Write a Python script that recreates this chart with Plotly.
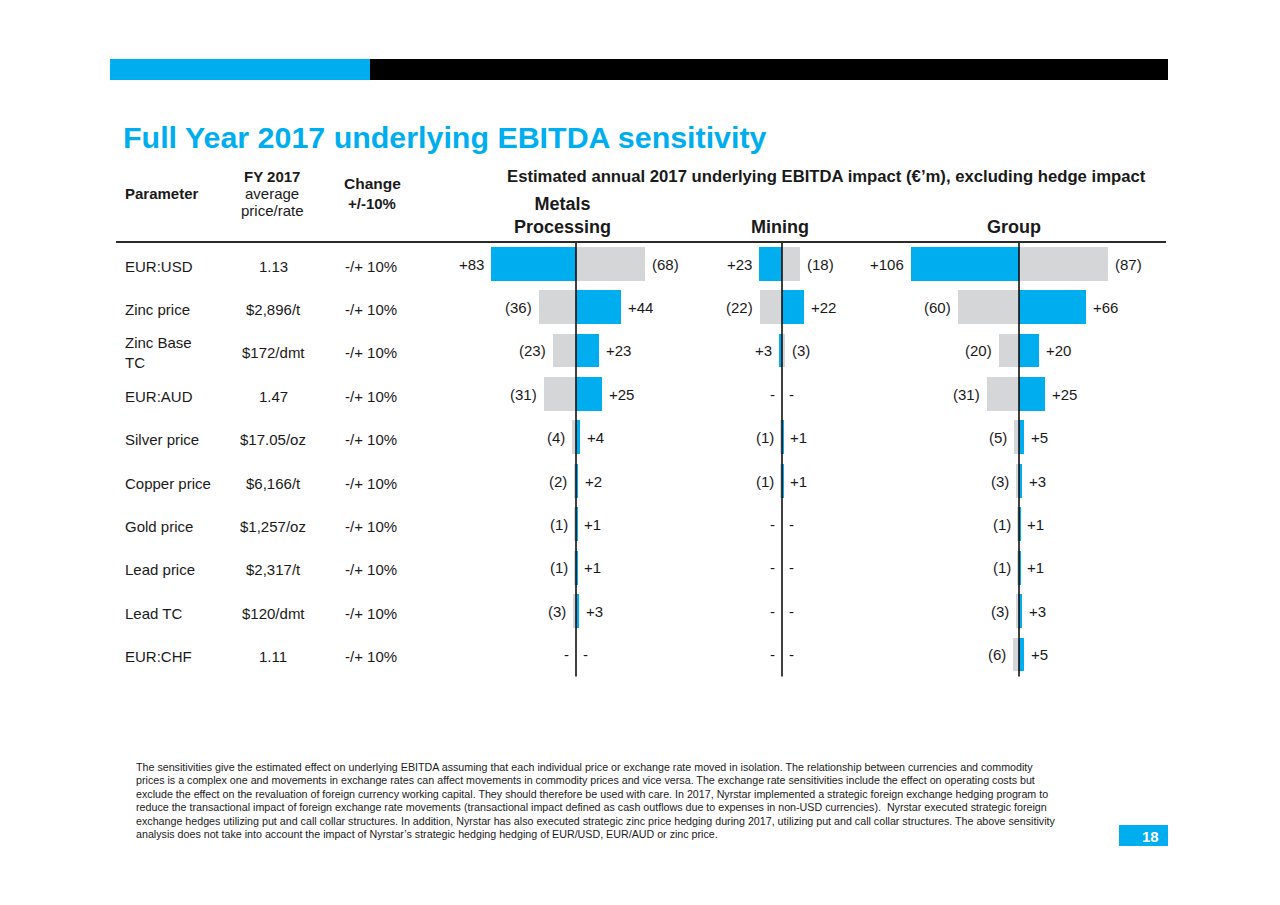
import plotly.graph_objects as go

W, H = 1280, 905
OFF = 8  # page body margin in the browser

# ---------------- data ----------------
parameters = ["EUR:USD", "Zinc price", "Zinc Base<br>TC", "EUR:AUD", "Silver price",
              "Copper price", "Gold price", "Lead price", "Lead TC", "EUR:CHF"]
avg_price = ["1.13", "$2,896/t", "$172/dmt", "1.47", "$17.05/oz",
             "$6,166/t", "$1,257/oz", "$2,317/t", "$120/dmt", "1.11"]
change = ["-/+ 10%"] * 10

segments = ["Metals<br>Processing", "Mining", "Group"]
# impact of a -10% move (left side) and a +10% move (right side), EUR m
mp_minus = [83, -36, -23, -31, -4, -2, -1, -1, -3, 0]
mp_plus = [-68, 44, 23, 25, 4, 2, 1, 1, 3, 0]
mi_minus = [23, -22, 3, 0, -1, -1, 0, 0, 0, 0]
mi_plus = [-18, 22, -3, 0, 1, 1, 0, 0, 0, 0]
gr_minus = [106, -60, -20, -31, -5, -3, -1, -1, -3, -6]
gr_plus = [-87, 66, 20, 25, 5, 3, 1, 1, 3, 5]

footnote = [
    "The sensitivities give the estimated effect on underlying EBITDA assuming that each individual price or exchange rate moved in isolation. The relationship between currencies and commodity",
    "prices is a complex one and movements in exchange rates can affect movements in commodity prices and vice versa. The exchange rate sensitivities include the effect on operating costs but",
    "exclude the effect on the revaluation of foreign currency working capital. They should therefore be used with care. In 2017, Nyrstar implemented a strategic foreign exchange hedging program to",
    "reduce the transactional impact of foreign exchange rate movements (transactional impact defined as cash outflows due to expenses in non-USD currencies).  Nyrstar executed strategic foreign",
    "exchange hedges utilizing put and call collar structures. In addition, Nyrstar has also executed strategic zinc price hedging during 2017, utilizing put and call collar structures. The above sensitivity",
    "analysis does not take into account the impact of Nyrstar\u2019s strategic hedging hedging of EUR/USD, EUR/AUD or zinc price.",
]

# ---------------- styling ----------------
BLUE = "#00AEEF"
GREY = "#D5D6D8"
TXT = "#1a1a1a"
FONT = "Liberation Sans, Arial, sans-serif"
SCALE = 1.02  # px per EUR m


def px(x):
    return (x - OFF) / W


def py(y):
    return 1 - (y - OFF) / H


rows = list(range(len(parameters)))
panels = [
    ("x", "xaxis", 576, 440, 700, mp_minus, mp_plus, 562),
    ("x2", "xaxis2", 782, 705, 860, mi_minus, mi_plus, 780),
    ("x3", "xaxis3", 1019, 865, 1165, gr_minus, gr_plus, 1014),
]


def fmt(v):
    if v > 0:
        return "+%d" % v
    if v < 0:
        return "(%d)" % (-v)
    return "-"


fig = go.Figure()
annotations = []
shapes = []
layout_axes = {}

for xa, axname, zero, d0, d1, minus, plus, _ in panels:
    fig.add_trace(go.Bar(
        y=rows, x=[-abs(v) for v in minus], orientation="h", width=0.78,
        marker=dict(color=[BLUE if v > 0 else GREY for v in minus], line=dict(width=0)),
        xaxis=xa, yaxis="y", showlegend=False, hoverinfo="skip"))
    fig.add_trace(go.Bar(
        y=rows, x=[abs(v) for v in plus], orientation="h", width=0.78,
        marker=dict(color=[BLUE if v > 0 else GREY for v in plus], line=dict(width=0)),
        xaxis=xa, yaxis="y", showlegend=False, hoverinfo="skip"))
    layout_axes[axname] = dict(
        domain=[px(d0), px(d1)], range=[(d0 - zero) / SCALE, (d1 - zero) / SCALE],
        anchor="y", showgrid=False, zeroline=False, showticklabels=False,
        ticks="", showline=False, fixedrange=True)
    for r, v in zip(rows, minus):
        annotations.append(dict(x=-abs(v), y=r, xref=xa, yref="y", text=fmt(v),
                                xanchor="right", yanchor="middle", xshift=-5,
                                showarrow=False, font=dict(size=15, color=TXT)))
    for r, v in zip(rows, plus):
        annotations.append(dict(x=abs(v), y=r, xref=xa, yref="y", text=fmt(v),
                                xanchor="left", yanchor="middle", xshift=5,
                                showarrow=False, font=dict(size=15, color=TXT)))
    shapes.append(dict(type="line", xref=xa, yref="y", x0=0, x1=0, y0=-0.5, y1=9.55,
                       line=dict(color="black", width=1.5), layer="above"))

# panel titles
for (xa, axname, zero, d0, d1, minus, plus, cx), name in zip(panels, segments):
    annotations.append(dict(x=px(cx), y=py(239), xref="paper", yref="paper",
                            text="<b>%s</b>" % name, xanchor="center", yanchor="bottom",
                            showarrow=False, font=dict(size=18, color=TXT)))

# table
for r in rows:
    annotations.append(dict(x=px(123), y=r, xref="paper", yref="y", text=parameters[r],
                            xanchor="left", yanchor="middle", yshift=-2, align="left",
                            showarrow=False, font=dict(size=15, color=TXT)))
    annotations.append(dict(x=px(273), y=r, xref="paper", yref="y", text=avg_price[r],
                            xanchor="center", yanchor="middle", yshift=-2,
                            showarrow=False, font=dict(size=15, color=TXT)))
    annotations.append(dict(x=px(371), y=r, xref="paper", yref="y", text=change[r],
                            xanchor="center", yanchor="middle", yshift=-2,
                            showarrow=False, font=dict(size=15, color=TXT)))


# headers
def txt(x, y, text, size, anchor="left", color=TXT):
    annotations.append(dict(x=px(x), y=py(y), xref="paper", yref="paper", text=text,
                            xanchor=anchor, yanchor="middle", showarrow=False,
                            font=dict(size=size, color=color)))


txt(121, 137, "<b>Full Year 2017 underlying EBITDA sensitivity</b>", 30.4, color=BLUE)
txt(123, 193, "<b>Parameter</b>", 15)
txt(272, 176, "<b>FY 2017</b>", 15, "center")
txt(272, 193, "average", 15, "center")
txt(272, 211, "price/rate", 15, "center")
txt(372, 184, "<b>Change</b>", 15.5, "center")
txt(372, 203, "<b>+/-10%</b>", 15, "center")
txt(505, 176, "<b>Estimated annual 2017 underlying EBITDA impact (\u20ac\u2019m), excluding hedge impact</b>", 16.7)

for i, line in enumerate(footnote):
    txt(134, 767 + i * 13.4, line, 10.7)

txt(1150, 836, "<b>18</b>", 15, "center", color="white")

# decorative shapes
shapes += [
    dict(type="rect", xref="paper", yref="paper", x0=px(110), x1=px(370), y0=py(80), y1=py(59),
         fillcolor=BLUE, line=dict(width=0)),
    dict(type="rect", xref="paper", yref="paper", x0=px(370), x1=px(1168), y0=py(80), y1=py(59),
         fillcolor="black", line=dict(width=0)),
    dict(type="line", xref="paper", yref="paper", x0=px(116), x1=px(1166), y0=py(242), y1=py(242),
         line=dict(color="#2b2b2b", width=2)),
    dict(type="rect", xref="paper", yref="paper", x0=px(1119), x1=px(1168), y0=py(846), y1=py(825),
         fillcolor=BLUE, line=dict(width=0), layer="below"),
]

fig.update_layout(
    width=W, height=H, margin=dict(l=0, r=0, t=0, b=0),
    paper_bgcolor="white", plot_bgcolor="rgba(0,0,0,0)",
    barmode="overlay", bargap=0,
    font=dict(family=FONT, color=TXT),
    yaxis=dict(domain=[py(676.5), py(242.3)], range=[9.5, -0.5], showgrid=False,
               zeroline=False, showticklabels=False, ticks="", showline=False, fixedrange=True),
    annotations=annotations, shapes=shapes, showlegend=False,
    **layout_axes,
)

fig.write_html("out.html")
